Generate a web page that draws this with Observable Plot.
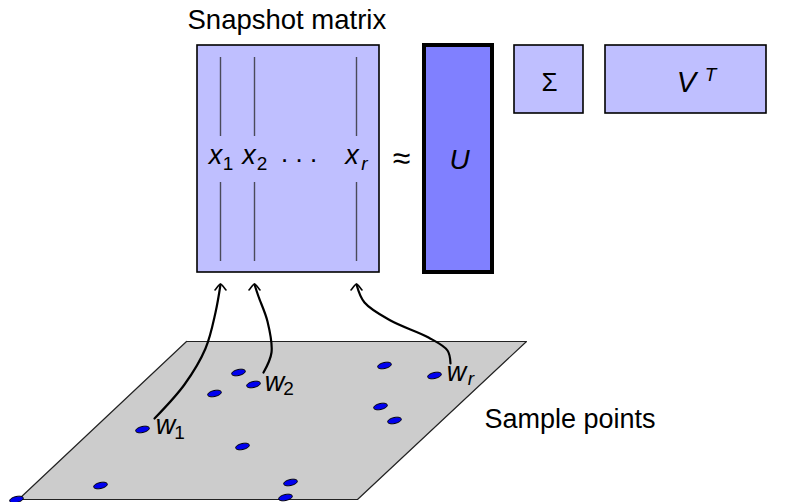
<!DOCTYPE html>
<html>
<head>
<meta charset="utf-8">
<script src="https://cdn.jsdelivr.net/npm/d3@7"></script>
<script src="https://cdn.jsdelivr.net/npm/@observablehq/plot@0.6"></script>
<style>
  html, body { margin: 0; padding: 0; background: #fff; }
</style>
</head>
<body>
<div id="chart"></div>
<script>
// Matrix blocks (diagram units = pixel-like coordinates, y downward)
const blocks = [
  {name: "snapshot", x1: 197, x2: 379, y1: 45, y2: 272, fill: "#bfbfff", sw: 1.6},
  {name: "U",        x1: 424, x2: 492, y1: 45, y2: 272, fill: "#8080ff", sw: 4},
  {name: "Sigma",    x1: 514, x2: 583, y1: 45, y2: 113, fill: "#bfbfff", sw: 1.6},
  {name: "VT",       x1: 605, x2: 766, y1: 45, y2: 113, fill: "#bfbfff", sw: 1.6}
];
// Column vectors inside the snapshot matrix
const columnX = [220, 254, 356];
const colSegments = [[57, 136], [182, 261]];
// Sample plane (parallelogram corners)
const plane = [[186, 341], [526, 341], [357, 499], [18, 499], [186, 341]];
// Sample points
const samplePoints = [
  [238, 372], [253, 384], [214, 393], [142, 429], [242, 446], [100, 485],
  [290, 482], [285, 497], [16, 499], [384, 365], [380, 406], [394, 420], [434, 375]
];
// Connecting curves from sample points to matrix columns
const curves = [
  {id: "w1", pts: [[154, 418], [184, 384], [205, 348], [215, 312], [220, 284]]},
  {id: "w2", pts: [[263, 372], [271, 352], [267, 321], [258, 296], [254, 284]]},
  {id: "wr", pts: [[450, 363], [447, 350], [428, 337], [390, 320], [364, 302], [356, 284]]}
];
const arrowTips = [[220, 283], [254, 283], [356, 283]];
// Labels
const plainLabels = [
  {t: "Snapshot matrix", x: 187, y: 28, size: 27.5},
  {t: "Sample points", x: 484, y: 427, size: 27}
];
const mathMain = [
  {t: "x", x: 215, y: 163, size: 27},
  {t: "x", x: 248.5, y: 163, size: 27},
  {t: "x", x: 351.5, y: 163, size: 27},
  {t: "U", x: 459, y: 168, size: 28},
  {t: "V", x: 686, y: 91, size: 29},
  {t: "w", x: 165, y: 433, size: 27},
  {t: "w", x: 274, y: 390, size: 27},
  {t: "w", x: 456, y: 380, size: 27}
];
const mathSub = [
  {t: "1", x: 227.5, y: 169, size: 19, italic: false},
  {t: "2", x: 261.5, y: 169, size: 19, italic: false},
  {t: "r", x: 364, y: 169, size: 19, italic: true},
  {t: "T", x: 710, y: 80, size: 19, italic: true},
  {t: "1", x: 179, y: 438, size: 19, italic: false},
  {t: "2", x: 288, y: 394, size: 19, italic: false},
  {t: "r", x: 470.5, y: 384, size: 19, italic: true}
];
const symbolLabels = [
  {t: "\u00B7", x: 284, y: 167, size: 26},
  {t: "\u00B7", x: 298.5, y: 167, size: 26},
  {t: "\u00B7", x: 313, y: 167, size: 26},
  {t: "\u2248", x: 401, y: 168, size: 32},
  {t: "\u03A3", x: 549, y: 90, size: 26}
];

// Tilted ellipse symbol for the sample points
const ellipseSymbol = {
  draw(ctx) {
    const rx = 7, ry = 3, a = -13 * Math.PI / 180, c = Math.cos(a), s = Math.sin(a), k = 0.5523;
    const P = (x, y) => [x * c - y * s, x * s + y * c];
    ctx.moveTo(...P(rx, 0));
    ctx.bezierCurveTo(...P(rx, k * ry), ...P(k * rx, ry), ...P(0, ry));
    ctx.bezierCurveTo(...P(-k * rx, ry), ...P(-rx, k * ry), ...P(-rx, 0));
    ctx.bezierCurveTo(...P(-rx, -k * ry), ...P(-k * rx, -ry), ...P(0, -ry));
    ctx.bezierCurveTo(...P(k * rx, -ry), ...P(rx, -k * ry), ...P(rx, 0));
    ctx.closePath();
  }
};

const segData = columnX.flatMap(x => colSegments.map(([y1, y2]) => ({x, y1, y2})));
const curveData = curves.flatMap(c => c.pts.map(([x, y]) => ({id: c.id, x, y})));
const arrowData = arrowTips.flatMap(([x, y], i) => [
  {id: i, x: x - 5.5, y: y + 6.5}, {id: i, x: x - 1.5, y: y + 1.5}, {id: i, x, y},
  {id: i, x: x + 1.5, y: y + 1.5}, {id: i, x: x + 5.5, y: y + 6.5}
]);
const font = "'Liberation Sans', Arial, sans-serif";

const chart = Plot.plot({
  width: 787,
  height: 502,
  margin: 0,
  x: {domain: [0, 787], range: [0, 787], axis: null},
  y: {domain: [0, 502], range: [0, 502], axis: null},
  style: {background: "#fff", overflow: "visible"},
  marks: [
    Plot.line(plane, {x: d => d[0], y: d => d[1], fill: "#cccccc", stroke: "#222", strokeWidth: 1.2}),
    ...blocks.map(b => Plot.rect([b], {x1: "x1", x2: "x2", y1: "y1", y2: "y2", fill: b.fill, stroke: "#000", strokeWidth: b.sw})),
    Plot.ruleX(segData, {x: "x", y1: "y1", y2: "y2", stroke: "#4a4a5a", strokeWidth: 1.4}),
    Plot.line(curveData, {x: "x", y: "y", z: "id", curve: "catmull-rom", stroke: "#000", strokeWidth: 2.2}),
    Plot.line(arrowData, {x: "x", y: "y", z: "id", curve: "basis", stroke: "#000", strokeWidth: 1.6}),
    Plot.dot(samplePoints, {x: d => d[0], y: d => d[1], symbol: ellipseSymbol, fill: "#0000ee", stroke: "#000", strokeWidth: 1}),
    Plot.text(plainLabels, {x: "x", y: "y", text: "t", fontSize: d => d.size, textAnchor: "start", lineAnchor: "bottom", fontFamily: font, fill: "#000"}),
    Plot.text(mathMain, {x: "x", y: "y", text: "t", fontSize: d => d.size, textAnchor: "middle", lineAnchor: "bottom", fontFamily: font, fontStyle: "italic", fill: "#000"}),
    Plot.text(mathSub.filter(d => !d.italic), {x: "x", y: "y", text: "t", fontSize: d => d.size, textAnchor: "middle", lineAnchor: "bottom", fontFamily: font, fill: "#000"}),
    Plot.text(mathSub.filter(d => d.italic), {x: "x", y: "y", text: "t", fontSize: d => d.size, textAnchor: "middle", lineAnchor: "bottom", fontFamily: font, fontStyle: "italic", fill: "#000"}),
    Plot.text(symbolLabels, {x: "x", y: "y", text: "t", fontSize: d => d.size, textAnchor: "middle", lineAnchor: "bottom", fontFamily: font, fill: "#000"})
  ]
});
document.getElementById("chart").appendChild(chart);
</script>
</body>
</html>
